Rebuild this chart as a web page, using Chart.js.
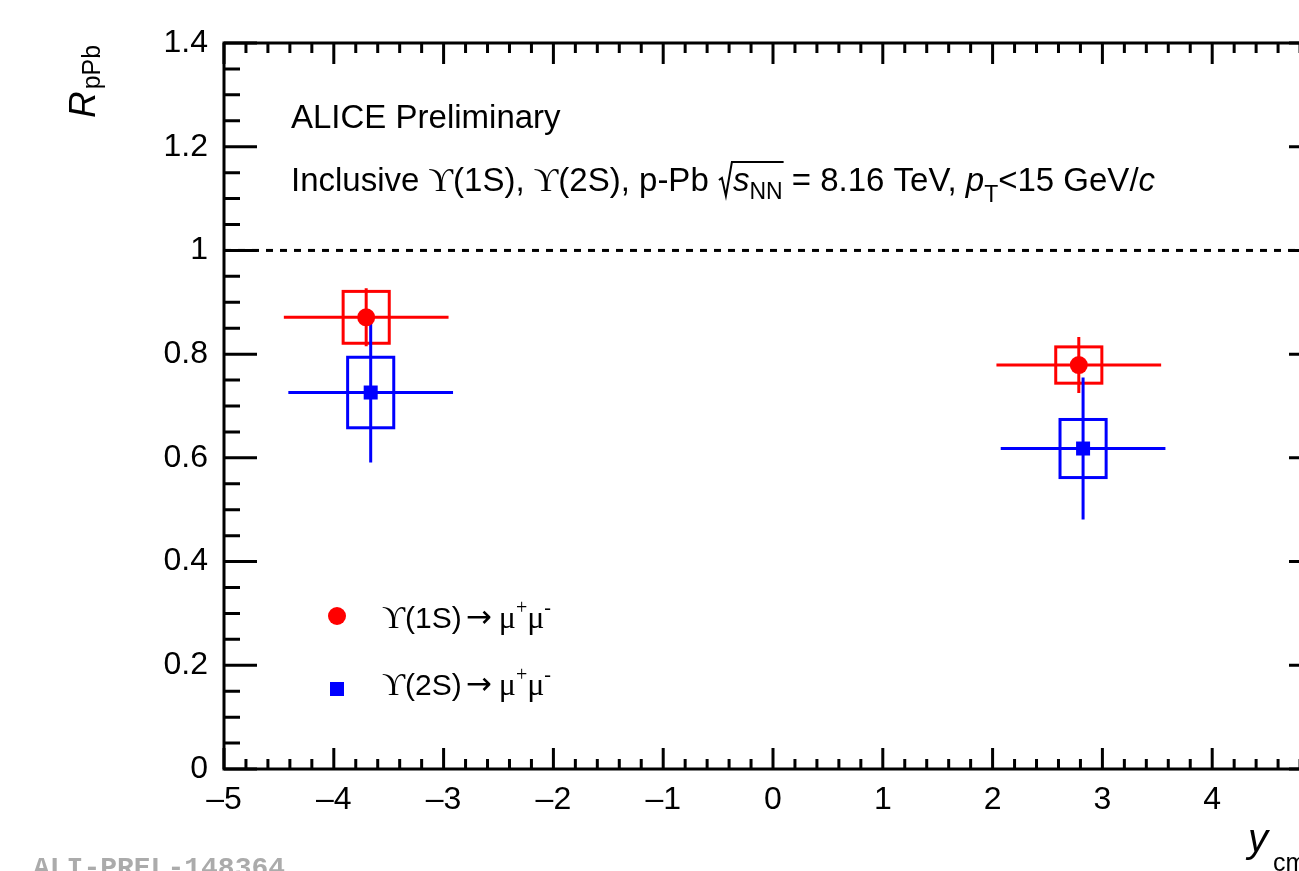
<!DOCTYPE html>
<html><head><meta charset="utf-8">
<script src="https://cdn.jsdelivr.net/npm/chart.js@4/dist/chart.umd.min.js"></script>
<style>
html,body{margin:0;padding:0;background:#fff;overflow:hidden;width:1299px;height:871px;}
#wrap{position:absolute;left:0;top:0;width:1400px;height:871px;}
</style></head><body>
<div id="wrap"><canvas id="c" width="1400" height="871"></canvas></div>
<script>
// ---- data ----
const rapidity1S = [-3.705, 2.785];
const rpPb1S     = [0.871, 0.779];
const stat1S     = [0.056, 0.054];
const syst1S     = [0.050, 0.035];
const rapidity2S = [-3.664, 2.824];
const rpPb2S     = [0.726, 0.618];
const stat2S     = [0.135, 0.137];
const syst2S     = [0.068, 0.056];
const rapHalfWidth = [0.75, 0.75];
const xTickValues = [-5, -4, -3, -2, -1, 0, 1, 2, 3, 4, 5];
const yTickValues = [0, 0.2, 0.4, 0.6, 0.8, 1, 1.2, 1.4];
const unityLevel = 1;

const RED = '#ff0000', BLUE = '#0000ff';
const SANS = '"Liberation Sans", Arial, sans-serif';
const SERIF = '"Liberation Serif", "DejaVu Serif", serif';
const BOX_HALF = 0.21;

function drawErrors(c, xs, ys, stat, syst, xerr, color) {
  const ctx = c.ctx;
  const X = c.scales.x, Y = c.scales.y;
  ctx.save();
  ctx.strokeStyle = color;
  ctx.lineWidth = 3;
  for (let i = 0; i < xs.length; i++) {
    const cx = X.getPixelForValue(xs[i]), cy = Y.getPixelForValue(ys[i]);
    const bx0 = X.getPixelForValue(xs[i] - BOX_HALF), bx1 = X.getPixelForValue(xs[i] + BOX_HALF);
    const by0 = Y.getPixelForValue(ys[i] + syst[i]), by1 = Y.getPixelForValue(ys[i] - syst[i]);
    ctx.strokeRect(bx0, by0, bx1 - bx0, by1 - by0);
    ctx.beginPath();
    ctx.moveTo(X.getPixelForValue(xs[i] - xerr[i]), cy);
    ctx.lineTo(X.getPixelForValue(xs[i] + xerr[i]), cy);
    ctx.moveTo(cx, Y.getPixelForValue(ys[i] + stat[i]));
    ctx.lineTo(cx, Y.getPixelForValue(ys[i] - stat[i]));
    ctx.stroke();
  }
  ctx.restore();
}

function drawRuns(ctx, x, y, runs) {
  for (const r of runs) {
    ctx.font = r.font;
    ctx.fillText(r.t, x, y + (r.dy || 0));
    x += ctx.measureText(r.t).width + (r.after || 0);
  }
  return x;
}

const framePlugin = {
  id: 'rootFrame',
  beforeDatasetsDraw(c) {
    drawErrors(c, rapidity1S, rpPb1S, stat1S, syst1S, rapHalfWidth, RED);
    drawErrors(c, rapidity2S, rpPb2S, stat2S, syst2S, rapHalfWidth, BLUE);
  },
  afterDraw(c) {
    const ctx = c.ctx;
    const a = c.chartArea, X = c.scales.x, Y = c.scales.y;
    ctx.save();
    ctx.strokeStyle = '#000';
    ctx.lineWidth = 3;
    ctx.beginPath();
    for (let k = 0; k <= 50; k++) {
      const v = -5 + k * 0.2;
      const px = X.getPixelForValue(v);
      const len = (k % 5 === 0) ? 21 : 10;
      ctx.moveTo(px, a.bottom); ctx.lineTo(px, a.bottom - len);
      ctx.moveTo(px, a.top); ctx.lineTo(px, a.top + len);
    }
    for (let k = 0; k <= 28; k++) {
      const v = k * 0.05;
      const py = Y.getPixelForValue(v);
      const len = (k % 4 === 0) ? 33 : 16;
      ctx.moveTo(a.left, py); ctx.lineTo(a.left + len, py);
      ctx.moveTo(a.right, py); ctx.lineTo(a.right - len, py);
    }
    ctx.stroke();
    ctx.strokeRect(a.left, a.top, a.right - a.left, a.bottom - a.top);
    ctx.restore();

    ctx.save();
    ctx.fillStyle = '#000';
    ctx.textBaseline = 'alphabetic';
    ctx.textAlign = 'left';
    const F = 33;
    ctx.font = F + 'px ' + SANS;
    ctx.fillText('ALICE Preliminary', 291, 128);

    const sans = F + 'px ' + SANS, serif = (F + 1) + 'px ' + SERIF, ital = 'italic ' + F + 'px ' + SANS, sub = '23px ' + SANS;
    let x = 291, by = 191;
    x = drawRuns(ctx, x, by, [
      {t: 'Inclusive ', font: sans},
      {t: '\u03D2', font: serif},
      {t: '(1S), ', font: sans},
      {t: '\u03D2', font: serif},
      {t: '(2S), p-Pb ', font: sans}
    ]);
    const sx = x;
    x += 15;
    const x2 = drawRuns(ctx, x, by, [
      {t: 's', font: ital},
      {t: 'NN', font: sub, dy: 8}
    ]);
    ctx.save();
    ctx.lineWidth = 2;
    ctx.beginPath();
    ctx.moveTo(sx + 1, by - 11);
    ctx.lineTo(sx + 4, by - 13);
    ctx.lineTo(sx + 8, by + 5);
    ctx.lineTo(sx + 14, by - 29);
    ctx.lineTo(x2 + 1, by - 29);
    ctx.stroke();
    ctx.restore();
    drawRuns(ctx, x2, by, [
      {t: ' = 8.16 TeV, ', font: sans},
      {t: 'p', font: ital},
      {t: 'T', font: sub, dy: 11},
      {t: '<15 GeV/', font: sans},
      {t: 'c', font: ital}
    ]);

    const lsans = '30px ' + SANS, lserif = '32px ' + SERIF, larrow = '31px "DejaVu Sans", sans-serif', lsup = '20px ' + SERIF;
    ctx.fillStyle = RED;
    ctx.beginPath(); ctx.arc(337, 616, 9, 0, Math.PI * 2); ctx.fill();
    ctx.fillStyle = BLUE;
    ctx.fillRect(337 - 7, 689 - 7, 14, 14);
    ctx.fillStyle = '#000';
    const leg = (label, yb) => drawRuns(ctx, 382, yb, [
      {t: '\u03D2', font: lserif},
      {t: label, font: lsans, after: 4},
      {t: '\u2192', font: larrow, dy: -1, after: 7},
      {t: '\u03BC', font: lserif},
      {t: '+', font: lsup, dy: -14},
      {t: '\u03BC', font: lserif},
      {t: '-', font: lsup, dy: -14}
    ]);
    leg('(1S)', 628);
    leg('(2S)', 695);

    ctx.save();
    ctx.translate(95, 118);
    ctx.rotate(-Math.PI / 2);
    ctx.font = 'italic 37px ' + SANS;
    ctx.fillText('R', 0, 0);
    const wR = ctx.measureText('R').width;
    ctx.font = '25px ' + SANS;
    ctx.fillText('pPb', wR + 2, 5);
    ctx.restore();

    ctx.font = 'italic 40px ' + SANS;
    ctx.fillText('y', 1248, 852);
    ctx.font = '25px ' + SANS;
    ctx.fillText('cms', 1273, 871);

    ctx.fillStyle = '#ababab';
    ctx.font = 'bold 28px "Liberation Mono", "DejaVu Sans Mono", monospace';
    ctx.fillText('ALI-PREL-148364', 33, 876);
    ctx.restore();
  }
};

new Chart(document.getElementById('c'), {
  type: 'scatter',
  data: {
    datasets: [
      {
        label: 'unity', type: 'line',
        data: [{x: xTickValues[0], y: unityLevel}, {x: xTickValues[xTickValues.length - 1], y: unityLevel}],
        borderColor: '#000', borderWidth: 3, borderDash: [7, 7], pointRadius: 0, order: 5
      },
      {
        label: 'Upsilon(1S)',
        data: rapidity1S.map((v, i) => ({x: v, y: rpPb1S[i]})),
        pointStyle: 'circle', pointRadius: 9, backgroundColor: RED, borderWidth: 0, order: 1
      },
      {
        label: 'Upsilon(2S)',
        data: rapidity2S.map((v, i) => ({x: v, y: rpPb2S[i]})),
        pointStyle: 'rect', pointRadius: 9.9, backgroundColor: BLUE, borderWidth: 0, order: 0
      }
    ]
  },
  options: {
    responsive: false, animation: false, devicePixelRatio: 1,
    layout: {padding: {left: 0, top: 43, right: 78, bottom: 0}},
    plugins: {legend: {display: false}, tooltip: {enabled: false}},
    scales: {
      x: {
        type: 'linear', min: -5, max: 5,
        afterBuildTicks: s => { s.ticks = xTickValues.map(v => ({value: v})); },
        afterFit: s => { s.height = 102; },
        grid: {display: false, drawTicks: false, tickLength: 0}, border: {display: false},
        ticks: {
          font: {family: SANS, size: 32}, color: '#000', padding: 12,
          maxRotation: 0, autoSkip: false,
          callback: v => v < 0 ? '\u2013' + Math.abs(v) : String(v)
        }
      },
      y: {
        type: 'linear', min: 0, max: 1.4,
        afterBuildTicks: s => { s.ticks = yTickValues.map(v => ({value: v})); },
        afterFit: s => { s.width = 224; },
        grid: {display: false, drawTicks: false, tickLength: 0}, border: {display: false},
        ticks: {
          font: {family: SANS, size: 32}, color: '#000', padding: 16, autoSkip: false,
          callback: v => String(Math.round(v * 10) / 10)
        }
      }
    }
  },
  plugins: [framePlugin]
});
</script>
</body></html>
